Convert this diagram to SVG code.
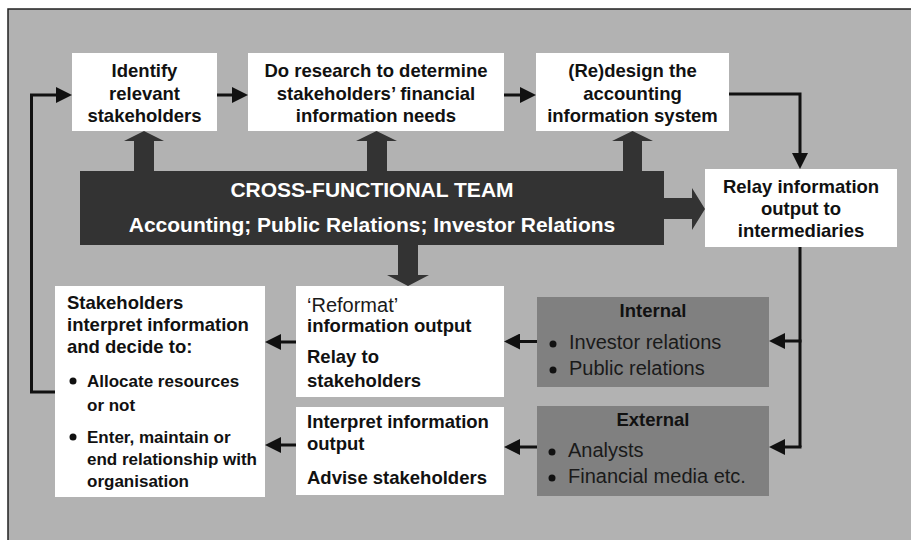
<svg xmlns="http://www.w3.org/2000/svg" width="911" height="540" viewBox="0 0 911 540">
  <style>
    .box { fill: #ffffff; }
    .grey { fill: #808080; }
    .band { fill: #333333; }
    .fat { fill: #333333; }
    .t { font-family: "Liberation Sans", Arial, Helvetica, sans-serif; font-size: 18.5px; font-weight: bold; fill: #111111; }
    .c { text-anchor: middle; }
    .w { fill: #ffffff; font-size: 21px; }
    .r { font-weight: normal; font-size: 20px; fill: #1a1a1a; }
    .b { font-size: 17px; }
    .dot { fill: #111111; }
    .link { fill: none; stroke: #111111; stroke-width: 3; marker-end: url(#head); }
  </style>
  <defs>
    <marker id="head" viewBox="0 0 16 16" refX="8" refY="8" markerWidth="16" markerHeight="16" markerUnits="userSpaceOnUse" orient="auto">
      <path d="M0,0 L16,8 L0,16 z" fill="#111111"/>
    </marker>
  </defs>

  <!-- panel -->
  <rect x="8" y="9" width="912" height="540" fill="#b2b2b2" stroke="#222222" stroke-width="1.5"/>

  <!-- connectors -->
  <g id="connectors">
    <path class="link" d="M55,392 H31.5 V95 H64"/>
    <path class="link" d="M217,95 H240"/>
    <path class="link" d="M504,95 H528"/>
    <path class="link" d="M729,94 H800 V161"/>
    <path d="M800,247 V447" fill="none" stroke="#111111" stroke-width="3"/>
    <path class="link" d="M801.5,341 H777"/>
    <path class="link" d="M801.5,447 H777"/>
    <path class="link" d="M537,341.5 H512"/>
    <path class="link" d="M537,447 H512"/>
    <path class="link" d="M296,342 H273"/>
    <path class="link" d="M296,445 H273"/>
    <!-- broad arrows from the team -->
    <polygon class="fat" points="134,172 134,141 124,141 144,131 164,141 154,141 154,172"/>
    <polygon class="fat" points="367,172 367,141 356,141 376.5,131 397,141 387,141 387,172"/>
    <polygon class="fat" points="623,172 623,141 612,141 632.5,131 653,141 642,141 642,172"/>
    <polygon class="fat" points="663,198 692,198 692,188 705,209 692,230 692,219 663,219"/>
    <polygon class="fat" points="398,244 418,244 418,275 429,275 408,286 387,275 398,275"/>
  </g>

  <g id="team">
    <rect class="band" x="80" y="171" width="584" height="74"/>
    <text class="t c w" x="372" y="197">CROSS-FUNCTIONAL TEAM</text>
    <text class="t c w" x="372" y="232">Accounting; Public Relations; Investor Relations</text>
  </g>

  <g id="identify">
    <rect class="box" x="72" y="53" width="145" height="78"/>
    <text class="t c" x="144.5" y="77">Identify</text>
    <text class="t c" x="144.5" y="99.5">relevant</text>
    <text class="t c" x="144.5" y="122">stakeholders</text>
  </g>

  <g id="research">
    <rect class="box" x="248" y="53" width="256" height="78"/>
    <text class="t c" x="376" y="77">Do research to determine</text>
    <text class="t c" x="376" y="99.5">stakeholders’ financial</text>
    <text class="t c" x="376" y="122">information needs</text>
  </g>

  <g id="redesign">
    <rect class="box" x="536" y="53" width="193" height="78"/>
    <text class="t c" x="632.5" y="77">(Re)design the</text>
    <text class="t c" x="632.5" y="99.5">accounting</text>
    <text class="t c" x="632.5" y="122">information system</text>
  </g>

  <g id="relay">
    <rect class="box" x="705" y="169" width="192" height="78"/>
    <text class="t c" x="801" y="193">Relay information</text>
    <text class="t c" x="801" y="215">output to</text>
    <text class="t c" x="801" y="237">intermediaries</text>
  </g>

  <g id="internal">
    <rect class="grey" x="537" y="297" width="232" height="90"/>
    <text class="t c" x="653" y="317">Internal</text>
    <circle class="dot" cx="553" cy="344" r="3.5"/>
    <text class="t r" x="569" y="349">Investor relations</text>
    <circle class="dot" cx="553" cy="370" r="3.5"/>
    <text class="t r" x="569" y="375">Public relations</text>
  </g>

  <g id="external">
    <rect class="grey" x="537" y="406" width="232" height="90"/>
    <text class="t c" x="653" y="426">External</text>
    <circle class="dot" cx="552" cy="452" r="3.5"/>
    <text class="t r" x="568" y="457">Analysts</text>
    <circle class="dot" cx="552" cy="478" r="3.5"/>
    <text class="t r" x="568" y="483">Financial media etc.</text>
  </g>

  <g id="reformat">
    <rect class="box" x="296" y="286" width="208" height="111"/>
    <text class="t r" x="307" y="312">‘Reformat’</text>
    <text class="t" x="307" y="332">information output</text>
    <text class="t" x="307" y="363">Relay to</text>
    <text class="t" x="307" y="387">stakeholders</text>
  </g>

  <g id="interpret">
    <rect class="box" x="296" y="407" width="208" height="88"/>
    <text class="t" x="307" y="428">Interpret information</text>
    <text class="t" x="307" y="450">output</text>
    <text class="t" x="307" y="484">Advise stakeholders</text>
  </g>

  <g id="stakeholders">
    <rect class="box" x="55" y="286" width="210" height="211"/>
    <text class="t" x="67" y="309">Stakeholders</text>
    <text class="t" x="67" y="331">interpret information</text>
    <text class="t" x="67" y="353">and decide to:</text>
    <circle class="dot" cx="73" cy="381" r="3.5"/>
    <text class="t b" x="87" y="387">Allocate resources</text>
    <text class="t b" x="87" y="411">or not</text>
    <circle class="dot" cx="73" cy="437" r="3.5"/>
    <text class="t b" x="87" y="443">Enter, maintain or</text>
    <text class="t b" x="87" y="465">end relationship with</text>
    <text class="t b" x="87" y="487">organisation</text>
  </g>
</svg>
